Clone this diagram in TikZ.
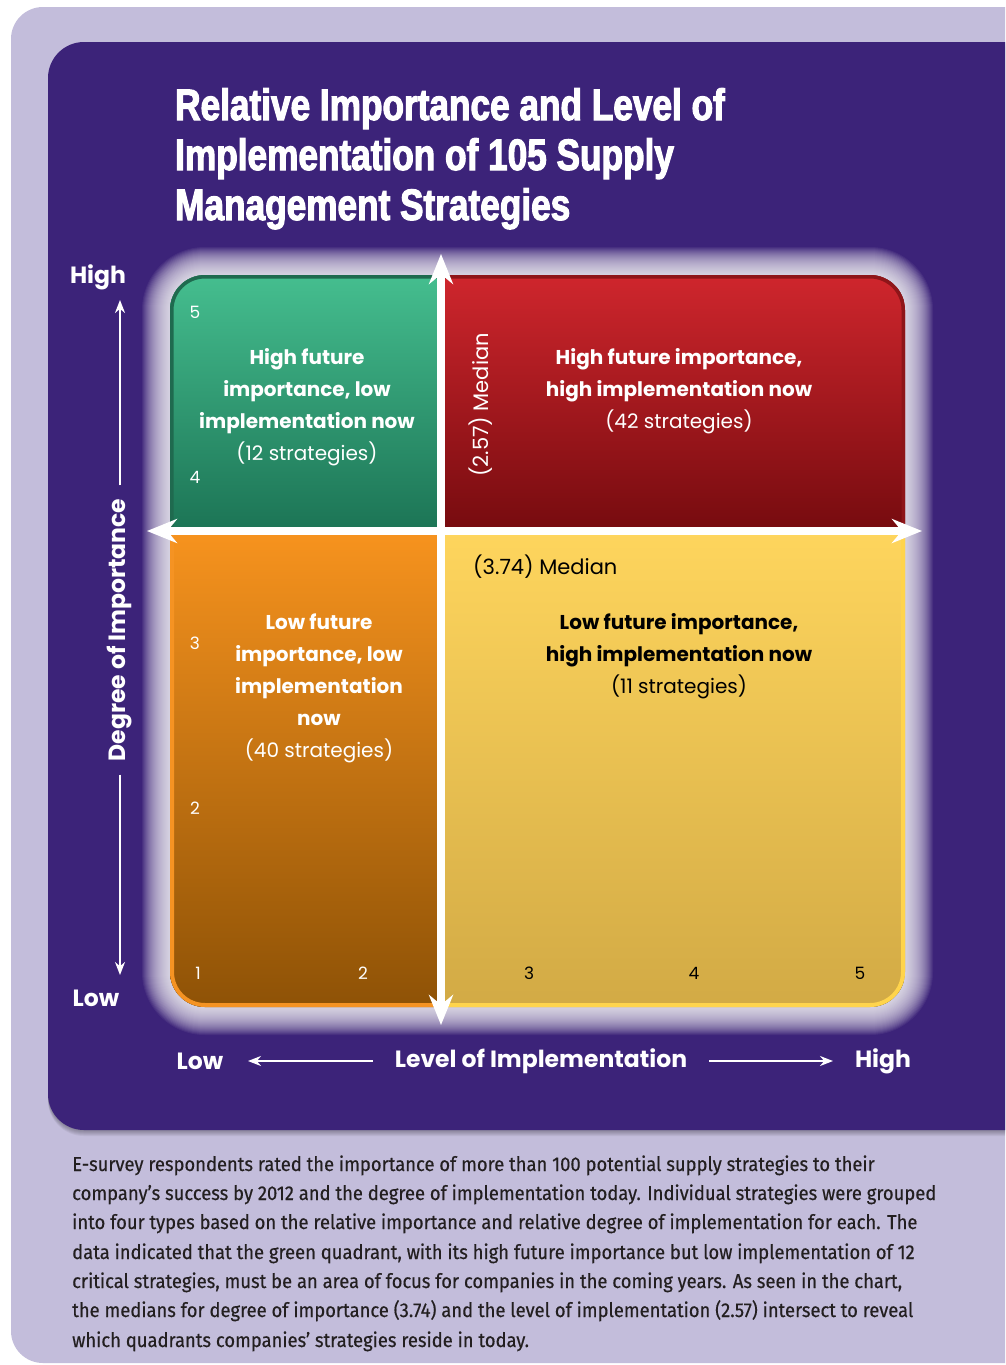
\documentclass[tikz,border=0pt]{standalone}
\usepackage{fontspec}
\setmainfont{Poppins}
\newfontfamily\titlefont[FakeStretch=0.8,FakeBold=2.5]{Liberation Sans Bold}
\newfontfamily\capfont[FakeStretch=0.92,FakeBold=0.4]{Fira Sans}
\usetikzlibrary{arrows.meta}

\definecolor{lavender}{HTML}{C3BDDB}
\definecolor{panel}{HTML}{3C2379}
\definecolor{captext}{HTML}{231F20}
\definecolor{greenTop}{HTML}{45BE8F}
\definecolor{greenBot}{HTML}{1C7455}
\definecolor{greenEdge}{HTML}{1F6A4F}
\definecolor{redTop}{HTML}{CF262D}
\definecolor{redBot}{HTML}{760B0F}
\definecolor{redEdge}{HTML}{8E1519}
\definecolor{orangeTop}{HTML}{F7931E}
\definecolor{orangeMid}{HTML}{DA841B}
\definecolor{orangeBot}{HTML}{8E5206}
\definecolor{orangeEdge}{HTML}{F59323}
\definecolor{yellowTop}{HTML}{FED55D}
\definecolor{yellowMid}{HTML}{EFC656}
\definecolor{yellowBot}{HTML}{D2AA45}
\definecolor{yellowEdge}{HTML}{FFD44C}

\tikzset{
  axlab/.style={font=\fontsize{23.5}{26}\selectfont\bfseries, text=white, inner sep=0pt},
  axarrow/.style={draw=white, line width=2pt, -{Stealth[length=13pt,width=10pt]}},
  crossarrow/.style={draw=white, line width=8pt,
    {Stealth[length=30pt,width=24pt]}-{Stealth[length=30pt,width=24pt]}},
  quadtext/.style={align=center, font=\fontsize{20}{32}\selectfont\bfseries, inner sep=0pt},
  ticklab/.style={font=\fontsize{17}{19}\selectfont, inner sep=0pt},
  medlab/.style={font=\fontsize{21}{24}\selectfont, inner sep=0pt},
  capline/.style={anchor=base west, inner sep=0pt, text=captext,
    font=\capfont\fontsize{20}{24}\selectfont},
  titleline/.style={anchor=base west, inner sep=0pt, text=white,
    font=\titlefont\fontsize{44}{50}\selectfont},
}

\begin{document}
\begin{tikzpicture}[x=1pt,y=-1pt]
\useasboundingbox (0,0) rectangle (1005,1365);
\begin{scope}
\clip (0,0) rectangle (1005,1365);
\fill[white] (0,0) rectangle (1005,1365);
% outer lavender card
\fill[lavender, rounded corners=32pt] (11,7) rectangle (1060,1363);
% soft shadow under the purple panel
\foreach \s in {1,...,6}
  \fill[black, opacity=0.05, rounded corners=36pt] (48,42+\s) rectangle (1100,1130+\s);
% purple panel
\fill[panel, rounded corners=36pt] (48,42) rectangle (1100,1130);

% glow around the quadrant block
\foreach \g [evaluate=\g as \rr using 35+\g] in {28,27,...,1}
  \fill[white, fill opacity=0.058, rounded corners=\rr pt] (170-\g,275-\g) rectangle (905+\g,1007+\g);

% quadrants
\begin{scope}
  \clip[rounded corners=35pt] (170,275) rectangle (905,1007);
  \fill[top color=greenTop, bottom color=greenBot] (170,275) rectangle (441,531);
  \fill[top color=redTop, bottom color=redBot] (441,275) rectangle (905,531);
  \fill[top color=orangeTop, middle color=orangeMid, bottom color=orangeBot] (170,531) rectangle (441,1007);
  \fill[top color=yellowTop, middle color=yellowMid, bottom color=yellowBot] (441,531) rectangle (905,1007);
  \begin{scope}
    \clip (170,275) rectangle (441,531);
    \draw[greenEdge, line width=7pt, rounded corners=35pt] (170,275) rectangle (905,1007);
  \end{scope}
  \begin{scope}
    \clip (441,275) rectangle (905,531);
    \draw[redEdge, line width=7pt, rounded corners=35pt] (170,275) rectangle (905,1007);
  \end{scope}
  \begin{scope}
    \clip (170,531) rectangle (441,1007);
    \draw[orangeEdge, line width=8pt, rounded corners=35pt] (170,275) rectangle (905,1007);
  \end{scope}
  \begin{scope}
    \clip (441,531) rectangle (905,1007);
    \draw[yellowEdge, line width=8pt, rounded corners=35pt] (170,275) rectangle (905,1007);
  \end{scope}
\end{scope}

% median cross
\coordinate (vt) at (441,254);
\coordinate (vb) at (441,1025);
\coordinate (hl) at (147,531);
\coordinate (hr) at (922,531);
\draw[crossarrow] (vb) -- (vt);
\draw[crossarrow] (hl) -- (hr);
\end{scope}

% title
\node[titleline] (t1) at (175,120) {Relative Importance and Level of};
\node[titleline] (t2) at (175,170) {Implementation of 105 Supply};
\node[titleline] (t3) at (175,220) {Management Strategies};

% vertical axis
\node[axlab] (yhigh) at (98,277) {High};
\node[axlab] (ylow) at (96,998) {Low};
\node[axlab, rotate=90, inner xsep=13pt] (ydeg) at (120,630) {Degree of Importance};
\coordinate (ytop) at (120,300);
\coordinate (ybot) at (120,975);
\draw[axarrow] (ydeg.east) -- (ytop);
\draw[axarrow] (ydeg.west) -- (ybot);

% horizontal axis
\node[axlab] (xlow) at (200,1061) {Low};
\node[axlab] (xhigh) at (883,1061) {High};
\node[axlab, inner xsep=22pt] (xlev) at (541,1061) {Level of Implementation};
\coordinate (xleft) at (248,1061);
\coordinate (xright) at (833,1061);
\draw[axarrow] (xlev.west) -- (xleft);
\draw[axarrow] (xlev.east) -- (xright);

% scale numbers
\node[ticklab, text=white] (v5) at (195,312) {5};
\node[ticklab, text=white] (v4) at (195,477) {4};
\node[ticklab, text=white] (v3) at (195,643) {3};
\node[ticklab, text=white] (v2) at (195,808) {2};
\node[ticklab, text=white] (h1) at (198,973) {1};
\node[ticklab, text=white] (h2) at (363,973) {2};
\node[ticklab, text=black] (h3) at (529,973) {3};
\node[ticklab, text=black] (h4) at (694,973) {4};
\node[ticklab, text=black] (h5) at (860,973) {5};

% quadrant labels
\node[quadtext, text=white] (qgreen) at (307,407)
  {High future\\importance, low\\implementation now\\{\mdseries(12 strategies)}};
\node[quadtext, text=white] (qred) at (679,391)
  {High future importance,\\high implementation now\\{\mdseries(42 strategies)}};
\node[quadtext, text=white] (qorange) at (319,688)
  {Low future\\importance, low\\implementation\\now\\{\mdseries(40 strategies)}};
\node[quadtext, text=black] (qyellow) at (679,656)
  {Low future importance,\\high implementation now\\{\mdseries(11 strategies)}};

% median labels
\node[medlab, text=white, rotate=90] (medx) at (481,405) {(2.57) Median};
\node[medlab, text=black, anchor=west] (medy) at (473,567) {(3.74) Median};

% caption
\node[capline] (c1) at (72,1171) {E-survey respondents rated the importance of more than 100 potential supply strategies to their};
\node[capline] (c2) at (72,1200) {company’s success by 2012 and the degree of implementation today. Individual strategies were grouped};
\node[capline] (c3) at (72,1229) {into four types based on the relative importance and relative degree of implementation for each. The};
\node[capline] (c4) at (72,1259) {data indicated that the green quadrant, with its high future importance but low implementation of 12};
\node[capline] (c5) at (72,1288) {critical strategies, must be an area of focus for companies in the coming years. As seen in the chart,};
\node[capline] (c6) at (72,1317) {the medians for degree of importance (3.74) and the level of implementation (2.57) intersect to reveal};
\node[capline] (c7) at (72,1347) {which quadrants companies’ strategies reside in today.};
\end{tikzpicture}
\end{document}
